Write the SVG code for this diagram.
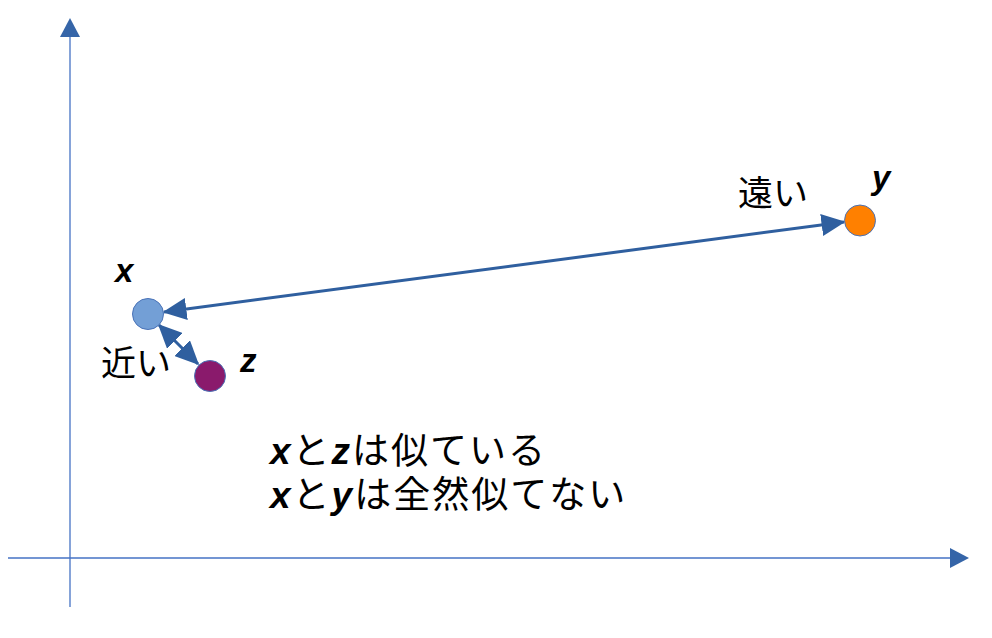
<svg xmlns="http://www.w3.org/2000/svg" width="992" height="638" viewBox="0 0 992 638">
<style>
.axis{stroke:#4472c4;stroke-width:1.3;fill:none}
.conn{stroke:#2f5f9f;stroke-width:3;fill:none}
.pt{stroke:#4a73b8;stroke-width:1}
.lbl{font-family:"Liberation Sans",Arial,sans-serif;font-weight:bold;font-style:italic;font-size:33px;fill:#000}
.jp{font-family:"Noto Sans CJK JP","Liberation Sans",sans-serif;font-size:35px;fill:#000}
.big{font-family:"Noto Sans CJK JP","Liberation Sans",sans-serif;font-size:37px;letter-spacing:2px;fill:#000}
.bi{font-family:"Liberation Sans",Arial,sans-serif;font-weight:bold;font-style:italic}
</style>
<defs>
<marker id="ah" markerWidth="8" markerHeight="7.4" refX="7.5" refY="3.7" orient="auto-start-reverse" markerUnits="strokeWidth">
<path d="M0,0 L8,3.7 L0,7.4 Z" fill="#2f5f9f"/>
</marker>
</defs>
<g id="axes">
<line class="axis" x1="70" y1="607" x2="70" y2="36"/>
<path d="M60,37 L70,18 L80,37 Z" fill="#3565a8"/>
<line class="axis" x1="8" y1="558" x2="951" y2="558"/>
<path d="M950,548 L969,558 L950,568 Z" fill="#3565a8"/>
</g>
<g id="connectors">
<line class="conn" x1="164" y1="312" x2="844" y2="222" marker-start="url(#ah)" marker-end="url(#ah)"/>
<line class="conn" x1="159" y1="325" x2="198" y2="364" marker-start="url(#ah)" marker-end="url(#ah)"/>
</g>
<g id="node-x">
<circle class="pt" cx="148" cy="314" r="15.5" fill="#739fd6"/>
<text class="lbl" x="115" y="282">x</text>
</g>
<g id="node-z">
<circle class="pt" cx="210" cy="376" r="15.5" fill="#8a1a6c"/>
<text class="lbl" x="240" y="372">z</text>
</g>
<g id="node-y">
<circle class="pt" cx="860" cy="220.5" r="15.5" fill="#ff8000"/>
<text class="lbl" x="872" y="189">y</text>
</g>
<g id="labels">
<text class="jp" x="738" y="206">遠い</text>
<text class="jp" x="101" y="376">近い</text>
<text class="big" x="270" y="464"><tspan class="bi">x</tspan>と<tspan class="bi">z</tspan>は似ている</text>
<text class="big" x="270" y="508"><tspan class="bi">x</tspan>と<tspan class="bi">y</tspan>は全然似てない</text>
</g>
</svg>
